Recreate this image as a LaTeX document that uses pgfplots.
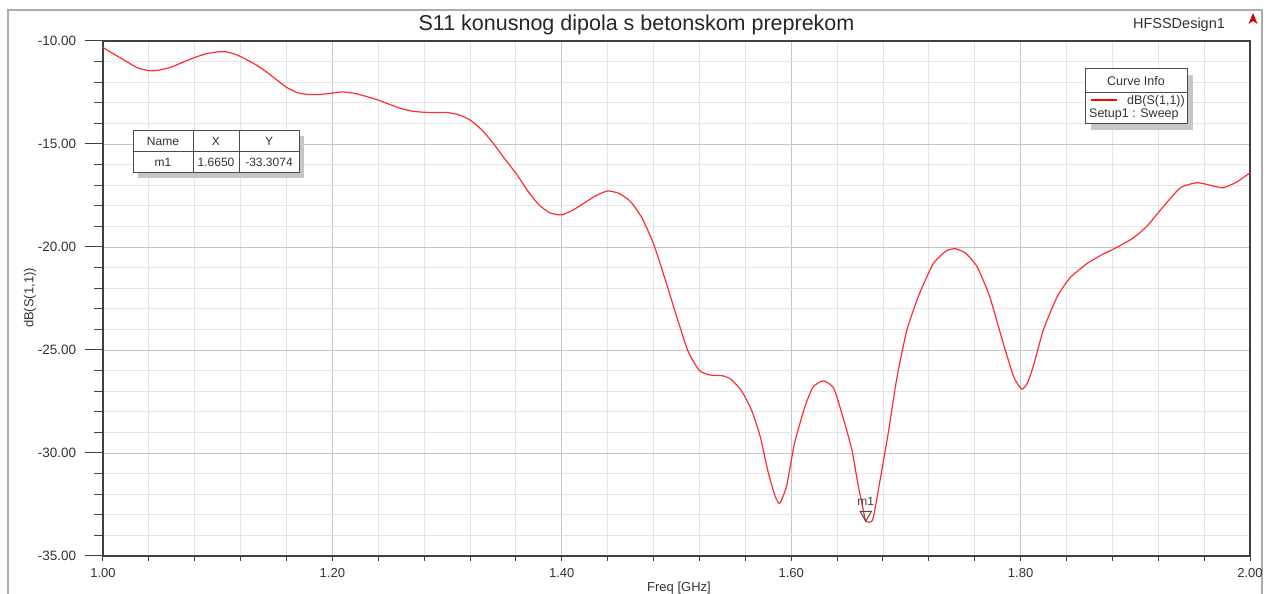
\documentclass[border=0pt]{standalone}
\usepackage{fontspec}
\setmainfont{Liberation Sans}
\usepackage{pgfplots}
\pgfplotsset{compat=1.18}
\begin{document}
\begin{tikzpicture}[x=1pt,y=1pt]
\path[use as bounding box] (-103,-38) rectangle (1163,556);
% outer frame (image coordinates)
\begin{scope}[shift={(-103,556)}, yscale=-1]
\draw[gray!65, line width=1.6] (8,600) -- (8,10) -- (1262,10) -- (1262,600);
\end{scope}
\begin{axis}[
  at={(0,0)}, anchor=south west,
  scale only axis, width=1147pt, height=515pt,
  xmin=1, xmax=2, ymin=-35, ymax=-10,
  xtick={1,1.2,1.4,1.6,1.8,2},
  xticklabels={1.00,1.20,1.40,1.60,1.80,2.00},
  ytick={-35,-30,-25,-20,-15,-10},
  yticklabels={-35.00,-30.00,-25.00,-20.00,-15.00,-10.00},
  minor x tick num=4, minor y tick num=4,
  grid=both,
  major grid style={color=black!22, line width=0.9pt},
  minor grid style={color=black!10, line width=0.9pt},
  axis line style={black!75, line width=1.1pt},
  tick align=outside,
  xtick pos=bottom, ytick pos=left,
  xtick style={black!75, line width=1pt, /pgfplots/major tick length=5pt, /pgfplots/minor tick length=5pt},
  ytick style={black!75, line width=1pt, /pgfplots/major tick length=18pt, /pgfplots/minor tick length=9pt},
  xticklabel style={font=\fontsize{13}{13}\selectfont, text=black!80, yshift=-5pt},
  yticklabel style={font=\fontsize{13.5}{13.5}\selectfont, text=black!80, xshift=-19pt},
  clip=false,
]
\addplot[color={rgb,255:red,255;green,45;blue,45}, line width=1.2pt, smooth, tension=0.35] coordinates {
(1.000,-10.32) (1.010,-10.65) (1.020,-10.98) (1.030,-11.30) (1.041,-11.45)
(1.050,-11.40) (1.060,-11.26) (1.070,-11.02) (1.080,-10.80) (1.090,-10.62)
(1.100,-10.53) (1.108,-10.53) (1.117,-10.68) (1.125,-10.90) (1.131,-11.08)
(1.140,-11.40) (1.150,-11.82) (1.160,-12.25) (1.170,-12.52) (1.180,-12.60)
(1.190,-12.59) (1.200,-12.53) (1.209,-12.47) (1.220,-12.55) (1.230,-12.70)
(1.240,-12.87) (1.250,-13.08) (1.260,-13.28) (1.270,-13.41) (1.280,-13.46)
(1.290,-13.47) (1.300,-13.47) (1.310,-13.58) (1.320,-13.83) (1.330,-14.30)
(1.340,-14.95) (1.350,-15.70) (1.361,-16.50) (1.370,-17.25) (1.380,-17.95)
(1.390,-18.35) (1.400,-18.44) (1.410,-18.20) (1.420,-17.85) (1.430,-17.50)
(1.440,-17.28) (1.450,-17.40) (1.460,-17.80) (1.470,-18.60) (1.480,-19.85)
(1.490,-21.55) (1.500,-23.35) (1.510,-25.05) (1.520,-26.00) (1.530,-26.22)
(1.540,-26.25) (1.547,-26.40) (1.555,-26.85) (1.560,-27.30) (1.566,-28.00)
(1.573,-29.20) (1.580,-30.95) (1.586,-32.10) (1.590,-32.44) (1.596,-31.60)
(1.603,-29.50) (1.612,-27.75) (1.619,-26.80) (1.628,-26.50) (1.637,-26.85)
(1.645,-28.24) (1.653,-29.86) (1.658,-31.46) (1.663,-32.80) (1.665,-33.31)
(1.671,-33.25) (1.677,-31.47) (1.685,-28.90) (1.692,-26.40) (1.701,-24.00)
(1.712,-22.24) (1.724,-20.80) (1.735,-20.20) (1.743,-20.08) (1.752,-20.30)
(1.762,-20.95) (1.773,-22.40) (1.785,-24.70) (1.794,-26.30) (1.801,-26.90)
(1.806,-26.60) (1.811,-25.80) (1.820,-24.00) (1.832,-22.40) (1.843,-21.50)
(1.858,-20.80) (1.870,-20.40) (1.881,-20.10) (1.898,-19.57) (1.910,-19.00)
(1.922,-18.20) (1.939,-17.14) (1.954,-16.88) (1.968,-17.04) (1.977,-17.12)
(1.989,-16.83) (2.000,-16.39)
};
\addplot[only marks, mark=triangle, mark size=6.5pt,
  mark options={yshift=6.5pt, rotate=180, draw=black!70, fill=none, line width=1pt}]
  coordinates {(1.665,-33.3074)};
\node[font=\fontsize{12}{12}\selectfont, text=black!75] at (axis cs:1.665,-33.3074) [yshift=20pt] {m1};
\end{axis}
\begin{scope}[shift={(-103,556)}, yscale=-1]
\node[font=\fontsize{13}{13}\selectfont, text=black!80, rotate=90] at (30,298) {dB(S(1,1))};
\node[font=\fontsize{13}{13}\selectfont, text=black!80] at (679,588) {Freq [GHz]};
% title
\node[font=\fontsize{21.5}{21.5}\selectfont, text=black!85] at (636.5,25) {S11 konusnog dipola s betonskom preprekom};
\node[font=\fontsize{14.5}{14.5}\selectfont, text=black!80] at (1179,25) {HFSSDesign1};
\fill[red!80!black] (1248.5,24) -- (1253,13) -- (1257.5,24) -- (1253,21) -- cycle;
% marker table
\fill[gray!45] (138,136) rectangle (304,178);
\filldraw[fill=white, draw=black!70, line width=1pt] (133,131) rectangle (299,173);
\draw[black!70, line width=1pt] (133,152) -- (299,152) (193,131) -- (193,173) (239,131) -- (239,173);
\begin{scope}[every node/.style={font=\fontsize{12}{12}\selectfont, text=black!80}]
\node at (163,141.5) {Name};
\node at (216,141.5) {X};
\node at (269,141.5) {Y};
\node at (163,162.5) {m1};
\node at (216,162.5) {1.6650};
\node at (269,162.5) {-33.3074};
\end{scope}
% curve info
\fill[gray!45] (1091,75) rectangle (1193,130);
\filldraw[fill=white, draw=black!70, line width=1pt] (1085,69) rectangle (1187,124);
\draw[black!70, line width=1pt] (1085,92.5) -- (1187,92.5);
\draw[red, line width=2.5pt] (1091,100) -- (1117,100);
\begin{scope}[every node/.style={font=\fontsize{12.5}{12.5}\selectfont, text=black!80}]
\node at (1136,81) {Curve Info};
\node[anchor=east, inner sep=0pt] at (1185,101) {dB(S(1,1))};
\node[anchor=west, inner sep=0pt] at (1089,114) {Setup1 : Sweep};
\end{scope}
\end{scope}
\end{tikzpicture}
\end{document}
